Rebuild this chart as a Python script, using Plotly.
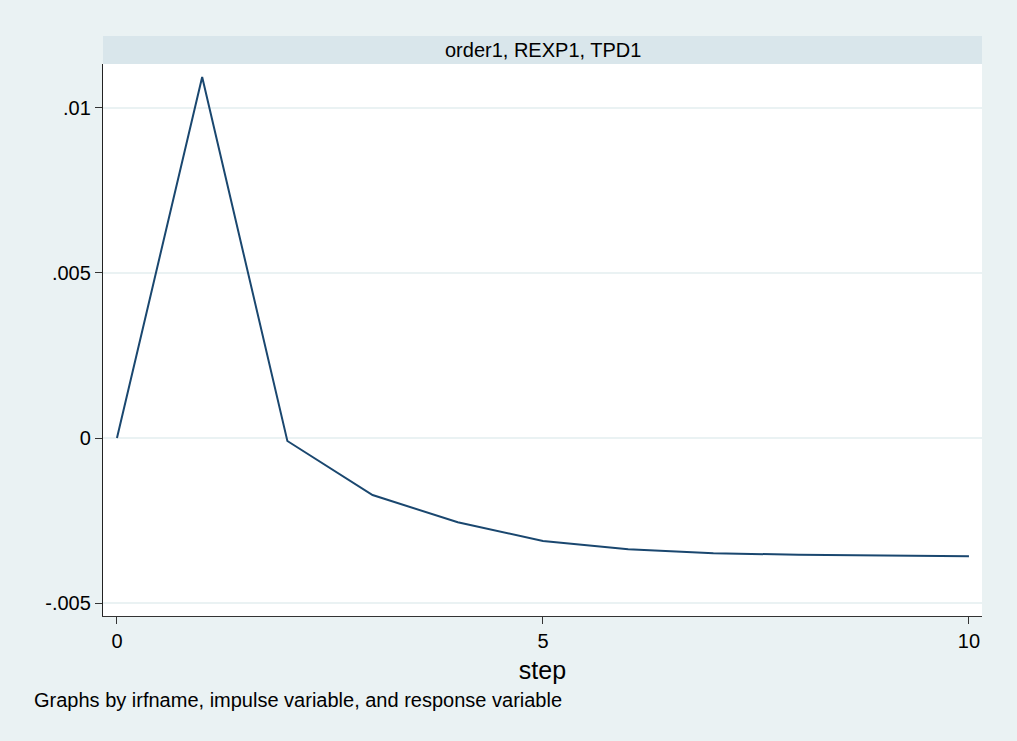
import plotly.graph_objects as go

steps = [0, 1, 2, 3, 4, 5, 6, 7, 8, 9, 10]
irf = [0.0, 0.01094, -0.00009, -0.001727, -0.002555, -0.003121,
       -0.003373, -0.003494, -0.003536, -0.003555, -0.003585]
y_ticks = [-0.005, 0, 0.005, 0.01]
y_tick_labels = ["-.005", "0", ".005", ".01"]
x_ticks = [0, 5, 10]
panel_title = "order1, REXP1, TPD1"
x_title = "step"
note = "Graphs by irfname, impulse variable, and response variable"

BG = "#EAF2F3"
STRIP = "#D9E6EB"
LINE = "#1A476F"
FONT = "Liberation Sans, Arial, sans-serif"

fig = go.Figure()
fig.add_trace(go.Scatter(x=steps, y=irf, mode="lines",
                         line=dict(color=LINE, width=2), showlegend=False,
                         hoverinfo="skip"))

fig.update_layout(
    width=1017, height=741,
    margin=dict(l=103, r=35, t=64, b=125),
    paper_bgcolor=BG, plot_bgcolor="white",
    font=dict(family=FONT, color="black", size=20),
    xaxis=dict(range=[-0.164, 10.153], tickvals=x_ticks,
               ticktext=[str(v) for v in x_ticks],
               showgrid=False, zeroline=False, showline=True,
               linecolor="#333333", linewidth=1.3,
               ticks="outside", ticklen=7, tickwidth=1.3, tickcolor="#333333",
               tickfont=dict(size=20, family=FONT),
               title=dict(text=x_title, font=dict(size=25, family=FONT), standoff=10)),
    yaxis=dict(range=[-0.005394, 0.011333], tickvals=y_ticks, ticktext=y_tick_labels,
               showgrid=True, gridcolor=BG, gridwidth=2, zeroline=False,
               showline=True, linecolor="#222222", linewidth=1.3,
               ticks="outside", ticklen=7, tickwidth=1.3, tickcolor="#333333",
               tickfont=dict(size=20, family=FONT)),
    shapes=[dict(type="rect", xref="paper", yref="paper",
                 x0=0, x1=1, y0=1.0, y1=1 + 28 / 552,
                 fillcolor=STRIP, line=dict(width=0), layer="below")],
    annotations=[
        dict(text=panel_title, xref="paper", yref="paper", x=0.5,
             y=1 + 14 / 552, xanchor="center", yanchor="middle",
             showarrow=False, font=dict(size=20, family=FONT)),
        dict(text=note, xref="paper", yref="paper", x=-71 / 879,
             y=-84 / 552, xanchor="left", yanchor="middle",
             showarrow=False, font=dict(size=20, family=FONT)),
    ],
)

fig.write_html("out.html", config={"displayModeBar": False},
               post_script="document.body.style.margin='0';document.body.style.overflow='hidden';")
